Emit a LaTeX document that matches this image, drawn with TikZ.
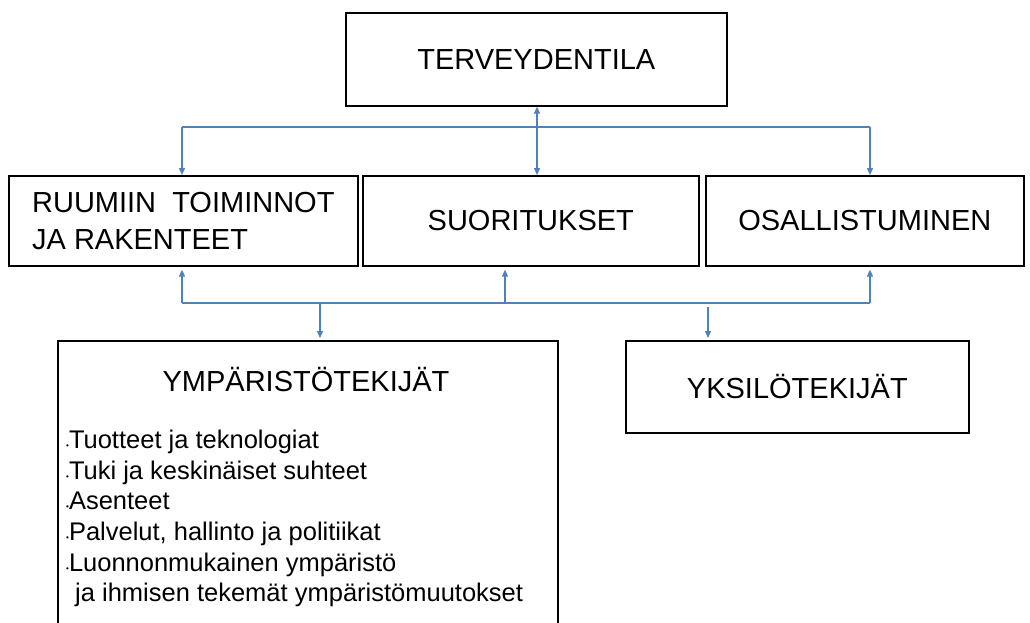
\documentclass[tikz,border=0pt]{standalone}
\usepackage{fontspec}
\setmainfont{Liberation Sans}
\usetikzlibrary{positioning}
\usetikzlibrary{arrows.meta}

\definecolor{viiva}{RGB}{79,129,189}
\newcommand{\kohta}{{\fontsize{8}{8}\selectfont\textbullet}}

\tikzset{
 laatikko/.style={draw=black,line width=1.6pt,inner sep=0pt,anchor=north west,font=\fontsize{29}{37}\selectfont},
 kisko/.style={draw=viiva,line width=1.4pt},
 nuoli/.style={kisko,-{Triangle[length=7pt,width=6pt]}},
 kaksinuoli/.style={kisko,{Triangle[length=7pt,width=6pt]}-{Triangle[length=7pt,width=6pt]}}
}

\begin{document}
\begin{tikzpicture}[x=1pt,y=-1pt]
 \useasboundingbox (0,0) rectangle (1030,623);
 % laatikot
 \node[laatikko,minimum width=381pt,minimum height=93pt] (tila) at (345,12) {TERVEYDENTILA};
 \node[laatikko,minimum width=349pt,minimum height=90pt,align=left] (ruumiin) at (8,175) {RUUMIIN\ \ TOIMINNOT\\JA RAKENTEET};
 \node[laatikko,minimum width=336pt,minimum height=90pt] (suoritukset) at (362,175) {SUORITUKSET};
 \node[laatikko,minimum width=318pt,minimum height=90pt] (osallistuminen) at (705,175) {OSALLISTUMINEN};
 \node[laatikko,minimum width=500pt,minimum height=300pt] (ymparisto) at (57,340) {};
 \node[laatikko,minimum width=343pt,minimum height=92pt] (yksilo) at (625,340) {YKSILÖTEKIJÄT};
 \node[font=\fontsize{29}{37}\selectfont,inner sep=0pt] (otsikko) at (306,380) {YMPÄRISTÖTEKIJÄT};
 \node[font=\fontsize{25.5}{30.6}\selectfont,inner sep=0pt,anchor=north west,align=left] (lista) at (66,430)
  {\kohta Tuotteet ja teknologiat\\\kohta Tuki ja keskinäiset suhteet\\\kohta Asenteet\\
   \kohta Palvelut, hallinto ja politiikat\\\kohta Luonnonmukainen ympäristö\\
   \hspace*{9pt}ja ihmisen tekemät ympäristömuutokset};
 % ylemmät nuolet
 \coordinate (keski) at (537,127);
 \coordinate (ylavasen) at (182,127);
 \coordinate (ylaoikea) at (870,127);
 \draw[kisko] (ylavasen) -- (ylaoikea);
 \draw[nuoli] (ylavasen) -- (ylavasen |- ruumiin.north);
 \draw[nuoli] (ylaoikea) -- (ylaoikea |- osallistuminen.north);
 \draw[kaksinuoli] (tila.south -| keski) -- (suoritukset.north -| keski);
 % alemmat nuolet
 \coordinate (alavasen) at (182,303);
 \coordinate (alakeski) at (505,303);
 \coordinate (alaoikea) at (870,303);
 \coordinate (ymp) at (320,303);
 \coordinate (yks) at (708,307);
 \draw[kisko] (alavasen) -- (alaoikea);
 \draw[nuoli,shorten >=3pt] (alavasen) -- (alavasen |- ruumiin.south);
 \draw[nuoli,shorten >=3pt] (alakeski) -- (alakeski |- suoritukset.south);
 \draw[nuoli,shorten >=3pt] (alaoikea) -- (alaoikea |- osallistuminen.south);
 \draw[nuoli,shorten >=2pt] (ymp) -- (ymp |- ymparisto.north);
 \draw[nuoli,shorten >=2pt] (yks) -- (yks |- yksilo.north);
\end{tikzpicture}
\end{document}
